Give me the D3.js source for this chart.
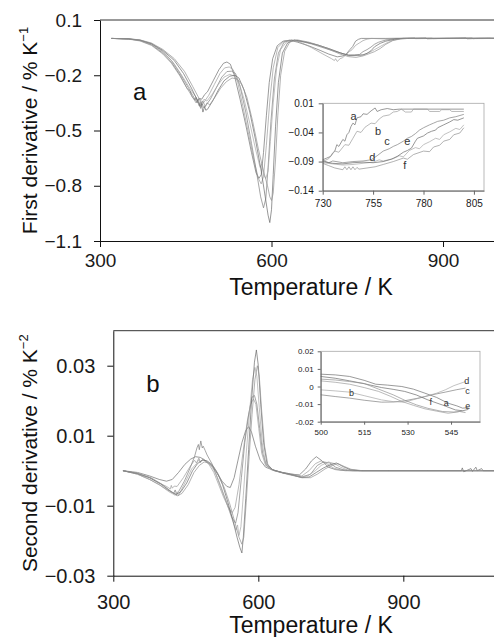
<!DOCTYPE html>
<html>
<head>
<meta charset="utf-8">
<script src="https://cdn.jsdelivr.net/npm/d3@7"></script>
<style>
  body { margin: 0; background: #fff; }
  svg { display: block; font-family: "Liberation Sans", Arial, sans-serif; }
</style>
</head>
<body>
<svg id="chart" width="494" height="637"></svg>
<script>
(function(d3) {
    "use strict";

    // samples, one curve each
    var seriesNames = ["a", "b", "c", "d", "e", "f"];
    var lineColors = ["#6e6e6e", "#9c9c9c", "#808080", "#a8a8a8", "#6a6a6a", "#909090"];

    // first derivative, % K-1, [T, value]
    var d1a = [[320,0],[350,-0.003],[370,-0.012],[390,-0.035],[410,-0.08],[425,-0.13],[440,-0.2],[452,-0.27],[458,-0.29],[460,-0.31],[462,-0.32],[466,-0.335],[468,-0.32],[470,-0.34],[473,-0.325],[478,-0.33],[483,-0.305],[488,-0.29],[498,-0.23],[508,-0.17],[516,-0.135],[522,-0.128],[528,-0.14],[535,-0.2],[545,-0.33],[555,-0.47],[565,-0.62],[573,-0.73],[578,-0.76],[582,-0.74],[586,-0.62],[591,-0.42],[596,-0.24],[602,-0.11],[610,-0.04],[620,-0.015],[632,-0.01],[645,-0.02],[665,-0.04],[685,-0.065],[700,-0.085],[715,-0.1],[725,-0.095],[730,-0.087],[737,-0.061],[742,-0.044],[747,-0.015],[752,-0.005],[757,0],[800,0],[850,0.002],[852,-0.001],[900,0],[950,0.002],[953,-0.001],[1000,0]];
    var d1b = [[320,0],[350,-0.004],[370,-0.014],[390,-0.038],[410,-0.085],[425,-0.135],[440,-0.205],[452,-0.27],[464,-0.33],[468,-0.35],[470,-0.335],[473,-0.365],[476,-0.345],[478,-0.36],[481,-0.35],[490,-0.31],[500,-0.25],[510,-0.19],[518,-0.16],[526,-0.155],[533,-0.17],[541,-0.24],[550,-0.37],[560,-0.52],[569,-0.66],[577,-0.76],[582,-0.79],[586,-0.75],[591,-0.58],[597,-0.34],[603,-0.16],[611,-0.05],[622,-0.015],[635,-0.008],[650,-0.02],[670,-0.05],[690,-0.085],[705,-0.11],[710,-0.12],[712,-0.11],[715,-0.125],[720,-0.11],[724,-0.105],[730,-0.09],[736,-0.072],[741,-0.061],[747,-0.038],[754,-0.024],[760,-0.012],[767,-0.004],[775,0],[800,-0.003],[830,0],[880,0.002],[883,-0.001],[930,0],[960,0.002],[1000,0]];
    var d1c = [[320,0],[350,-0.003],[370,-0.01],[390,-0.03],[410,-0.07],[425,-0.12],[440,-0.19],[455,-0.27],[466,-0.33],[470,-0.35],[472,-0.33],[476,-0.38],[479,-0.355],[481,-0.375],[484,-0.37],[493,-0.33],[503,-0.27],[513,-0.21],[522,-0.18],[530,-0.178],[537,-0.19],[545,-0.26],[555,-0.4],[565,-0.57],[574,-0.73],[581,-0.86],[586,-0.92],[590,-0.87],[594,-0.7],[599,-0.45],[605,-0.22],[612,-0.08],[622,-0.02],[635,-0.01],[650,-0.015],[670,-0.03],[690,-0.05],[710,-0.07],[725,-0.083],[735,-0.09],[745,-0.09],[754,-0.087],[760,-0.072],[767,-0.061],[774,-0.047],[780,-0.032],[787,-0.021],[793,-0.015],[800,-0.009],[815,-0.002],[830,0],[900,0],[960,0.001],[1000,0]];
    var d1d = [[320,0],[350,-0.003],[370,-0.011],[390,-0.032],[410,-0.075],[428,-0.13],[443,-0.2],[457,-0.27],[468,-0.32],[472,-0.34],[475,-0.325],[478,-0.35],[482,-0.33],[487,-0.34],[497,-0.3],[507,-0.25],[517,-0.21],[527,-0.195],[535,-0.205],[543,-0.24],[552,-0.33],[562,-0.46],[572,-0.6],[580,-0.7],[583,-0.68],[586,-0.74],[590,-0.76],[594,-0.72],[598,-0.56],[603,-0.35],[609,-0.16],[616,-0.06],[626,-0.02],[640,-0.01],[660,-0.02],[680,-0.035],[700,-0.055],[720,-0.078],[735,-0.094],[750,-0.093],[760,-0.089],[770,-0.078],[780,-0.061],[790,-0.044],[800,-0.027],[812,-0.01],[825,-0.002],[840,0],[900,0.001],[960,0],[1000,0]];
    var d1e = [[320,0],[350,-0.002],[370,-0.009],[390,-0.028],[410,-0.065],[430,-0.12],[446,-0.19],[460,-0.27],[471,-0.34],[475,-0.37],[477,-0.35],[480,-0.4],[483,-0.37],[485,-0.39],[488,-0.385],[497,-0.34],[507,-0.28],[517,-0.23],[527,-0.205],[536,-0.2],[543,-0.215],[552,-0.28],[562,-0.4],[572,-0.55],[582,-0.72],[589,-0.86],[594,-0.96],[597,-1.0],[600,-0.93],[603,-0.74],[607,-0.48],[612,-0.24],[619,-0.08],[628,-0.025],[640,-0.008],[660,-0.02],[680,-0.035],[700,-0.055],[720,-0.078],[735,-0.092],[750,-0.091],[760,-0.09],[767,-0.081],[774,-0.067],[780,-0.046],[790,-0.027],[800,-0.015],[815,-0.005],[830,0],[870,0.002],[872,-0.002],[900,0],[940,0.002],[942,-0.002],[980,0.002],[1000,0]];
    var d1f = [[320,0],[350,-0.002],[370,-0.008],[390,-0.025],[410,-0.06],[430,-0.11],[448,-0.18],[462,-0.26],[474,-0.33],[478,-0.355],[480,-0.34],[484,-0.37],[487,-0.35],[492,-0.36],[501,-0.32],[511,-0.27],[521,-0.235],[531,-0.215],[540,-0.22],[548,-0.25],[557,-0.32],[567,-0.45],[577,-0.6],[586,-0.72],[593,-0.8],[597,-0.86],[600,-0.88],[603,-0.84],[607,-0.66],[611,-0.42],[616,-0.2],[623,-0.07],[632,-0.02],[645,-0.008],[665,-0.02],[685,-0.04],[705,-0.065],[720,-0.085],[735,-0.099],[748,-0.103],[760,-0.095],[770,-0.084],[780,-0.072],[790,-0.055],[800,-0.032],[812,-0.012],[825,-0.003],[840,0],[900,0.001],[960,0],[1000,0]];

    // second derivative, % K-2, [T, value]
    var d2a = [[320,0],[350,-0.0005],[375,-0.0015],[395,-0.0025],[410,-0.003],[422,-0.0025],[435,-0.0005],[448,0.0018],[460,0.0033],[470,0.004],[480,0.0038],[492,0.0028],[505,0.0012],[515,-0.0008],[525,-0.003],[535,-0.0045],[542,-0.0048],[550,-0.002],[558,0.003],[566,0.008],[574,0.0115],[580,0.0126],[586,0.011],[594,0.007],[604,0.003],[615,0.001],[630,0.0002],[650,-0.0005],[670,-0.001],[685,-0.0012],[698,0.0005],[710,0.0028],[720,0.004],[732,0.0028],[745,0.001],[760,0.0003],[780,0],[820,0],[900,0],[1000,0],[1100,0]];
    var d2b = [[320,0],[350,-0.0008],[375,-0.002],[395,-0.0035],[410,-0.0045],[418,-0.0052],[420,-0.0042],[422,-0.005],[426,-0.0044],[432,-0.0045],[445,-0.002],[458,0.001],[468,0.003],[472,0.0022],[477,0.0036],[480,0.0026],[487,0.0032],[497,0.002],[508,-0.0005],[518,-0.004],[528,-0.0075],[538,-0.0105],[546,-0.012],[552,-0.0105],[560,-0.004],[568,0.005],[577,0.014],[584,0.019],[590,0.0205],[595,0.019],[601,0.012],[607,0.005],[615,0.0015],[628,0.0003],[650,-0.0005],[670,-0.001],[690,-0.0015],[705,0],[718,0.002],[730,0.0028],[742,0.002],[755,0.0008],[770,0.0002],[790,0],[850,0],[950,0],[1100,0]];
    var d2c = [[320,0],[350,-0.001],[375,-0.0025],[395,-0.004],[412,-0.0055],[425,-0.0065],[428,-0.0055],[431,-0.0068],[435,-0.006],[447,-0.003],[458,0.0005],[468,0.004],[473,0.0065],[476,0.0075],[478,0.006],[481,0.0085],[484,0.0065],[486,0.007],[490,0.0058],[494,0.0045],[504,0.002],[515,-0.002],[526,-0.006],[537,-0.01],[546,-0.0135],[553,-0.015],[558,-0.012],[565,-0.002],[572,0.008],[580,0.016],[587,0.021],[592,0.0215],[597,0.019],[603,0.012],[609,0.005],[617,0.0015],[630,0.0003],[650,-0.0006],[670,-0.0012],[690,-0.0018],[708,-0.001],[722,0.0015],[735,0.0025],[748,0.0022],[760,0.001],[775,0.0003],[795,0],[850,0],[950,0],[1100,0]];
    var d2d = [[320,0],[350,-0.001],[375,-0.0025],[395,-0.004],[415,-0.006],[428,-0.007],[432,-0.006],[435,-0.0072],[438,-0.0062],[450,-0.003],[462,0.0005],[472,0.002],[477,0.0032],[480,0.0022],[482,0.0028],[486,0.0034],[492,0.0025],[502,0.0015],[513,-0.001],[524,-0.005],[535,-0.0095],[545,-0.0135],[554,-0.017],[557,-0.0155],[560,-0.0185],[564,-0.016],[569,-0.007],[575,0.005],[582,0.017],[588,0.026],[593,0.0295],[597,0.027],[602,0.018],[608,0.008],[615,0.002],[626,0.0003],[645,-0.0005],[665,-0.0012],[685,-0.0018],[702,-0.0015],[718,0],[730,0.0015],[745,0.0025],[758,0.002],[770,0.001],[785,0.0002],[800,0],[850,0],[950,0],[1100,0]];
    var d2e = [[320,0],[350,-0.0008],[375,-0.002],[398,-0.0038],[418,-0.0058],[430,-0.0068],[440,-0.006],[452,-0.0035],[464,0],[474,0.002],[484,0.003],[494,0.0028],[504,0.0018],[515,-0.0005],[526,-0.004],[537,-0.009],[547,-0.014],[556,-0.019],[562,-0.022],[566,-0.0235],[569,-0.019],[574,-0.008],[580,0.006],[586,0.02],[592,0.031],[596,0.0345],[600,0.03],[605,0.019],[611,0.008],[618,0.002],[630,0.0002],[650,-0.0006],[670,-0.0012],[690,-0.002],[705,-0.0018],[720,-0.0005],[735,0.0008],[750,0.0018],[762,0.0022],[775,0.0012],[790,0.0003],[810,0],[860,0],[950,0],[1020,0],[1022,0.0008],[1025,-0.0003],[1040,0.0006],[1043,-0.0002],[1050,0.001],[1053,0],[1062,0.0006],[1065,0],[1100,0]];
    var d2f = [[320,0],[350,-0.0008],[378,-0.002],[400,-0.0038],[420,-0.006],[432,-0.0072],[442,-0.0065],[455,-0.004],[467,-0.0005],[478,0.0015],[488,0.0025],[498,0.0022],[508,0.001],[519,-0.0015],[530,-0.005],[541,-0.0095],[551,-0.0145],[560,-0.019],[566,-0.021],[570,-0.019],[575,-0.009],[581,0.004],[587,0.016],[593,0.026],[598,0.03],[602,0.027],[607,0.017],[613,0.007],[620,0.0015],[632,0],[652,-0.0006],[672,-0.0013],[692,-0.002],[708,-0.002],[722,-0.001],[738,0.0005],[752,0.0015],[765,0.002],[778,0.0012],[792,0.0004],[815,0],[870,0],[950,0],[1100,0]];

    // inset a: first derivative, 730-805 K
    var in1a = [[730,-0.087],[732,-0.084],[734,-0.081],[735,-0.075],[736,-0.072],[737,-0.061],[738,-0.064],[740,-0.052],[741,-0.055],[742,-0.044],[743,-0.04],[744,-0.03],[745,-0.024],[746,-0.027],[747,-0.015],[749,-0.013],[750,-0.008],[752,-0.009],[754,-0.003],[756,0.002],[757,-0.004],[759,-0.001],[762,0.001],[765,-0.001],[768,0],[800,0]];
    var in1b = [[730,-0.09],[733,-0.085],[736,-0.072],[738,-0.074],[741,-0.061],[743,-0.062],[745,-0.05],[747,-0.038],[749,-0.04],[751,-0.031],[754,-0.024],[756,-0.025],[758,-0.017],[760,-0.012],[763,-0.01],[765,-0.005],[767,-0.004],[769,0],[771,-0.005],[774,-0.005],[775,0],[782,0],[783,-0.004],[788,-0.004],[789,-0.001],[793,-0.001],[794,-0.004],[800,-0.004]];
    var in1c = [[730,-0.088],[733,-0.092],[735,-0.089],[740,-0.092],[745,-0.09],[750,-0.089],[754,-0.087],[757,-0.08],[760,-0.072],[763,-0.068],[765,-0.064],[767,-0.061],[770,-0.055],[772,-0.05],[774,-0.047],[776,-0.042],[778,-0.036],[780,-0.032],[783,-0.027],[785,-0.024],[787,-0.021],[790,-0.019],[793,-0.015],[796,-0.013],[800,-0.009]];
    var in1d = [[730,-0.092],[735,-0.094],[740,-0.096],[745,-0.095],[750,-0.093],[755,-0.091],[758,-0.087],[760,-0.089],[765,-0.085],[768,-0.08],[770,-0.082],[773,-0.071],[776,-0.066],[778,-0.068],[780,-0.061],[783,-0.056],[786,-0.05],[788,-0.052],[790,-0.044],[793,-0.039],[796,-0.033],[798,-0.035],[800,-0.027]];
    var in1e = [[730,-0.09],[735,-0.093],[740,-0.094],[745,-0.092],[750,-0.091],[755,-0.092],[760,-0.09],[764,-0.086],[767,-0.081],[770,-0.074],[772,-0.071],[774,-0.067],[776,-0.055],[777,-0.05],[780,-0.046],[782,-0.041],[784,-0.038],[786,-0.036],[787,-0.032],[790,-0.027],[793,-0.022],[795,-0.018],[797,-0.019],[800,-0.015]];
    var in1f = [[730,-0.093],[733,-0.097],[736,-0.101],[740,-0.104],[741,-0.099],[742,-0.104],[743,-0.099],[744,-0.104],[745,-0.099],[746,-0.104],[747,-0.1],[748,-0.103],[752,-0.101],[756,-0.099],[760,-0.095],[765,-0.09],[770,-0.084],[772,-0.086],[775,-0.078],[780,-0.072],[783,-0.073],[785,-0.065],[788,-0.062],[790,-0.055],[793,-0.052],[795,-0.044],[798,-0.041],[800,-0.032]];

    // inset b: second derivative, 500-550 K
    var in2a = [[500,0.007],[505,0.0066],[510,0.0057],[515,0.0035],[519,0.0013],[523,0.0008],[528,0],[532,-0.0015],[536,-0.0038],[540,-0.0062],[544,-0.0095],[547,-0.011],[549,-0.0123],[551,-0.012]];
    var in2b = [[500,0.0032],[505,0.0024],[510,0.0013],[515,-0.0006],[520,-0.0028],[524,-0.0055],[528,-0.0085],[532,-0.0107],[536,-0.0127],[540,-0.014],[544,-0.0152],[547,-0.0145],[549,-0.0138]];
    var in2c = [[500,-0.0047],[505,-0.0057],[510,-0.0066],[515,-0.0078],[521,-0.0089],[525,-0.0088],[529,-0.0081],[534,-0.0065],[538.5,-0.0047],[543,-0.0032],[547,-0.0018],[550,-0.0009]];
    var in2d = [[500,-0.0019],[505,-0.0025],[510,-0.0032],[515,-0.0052],[521,-0.0076],[525,-0.0086],[529,-0.0089],[532,-0.0075],[536,-0.0057],[540,-0.0038],[543,-0.0019],[546,0.0005],[550,0.0028]];
    var in2e = [[500,0.0057],[505,0.0047],[510,0.0032],[515,0.0016],[521,-0.0006],[525,-0.0016],[529,-0.0028],[533,-0.0048],[537,-0.0076],[542,-0.0105],[546.5,-0.0133],[549,-0.0138],[551,-0.013]];
    var in2f = [[500,0.0042],[505,0.0037],[510,0.0028],[515,0.0017],[520,-0.0015],[525,-0.0047],[529,-0.0078],[533,-0.0104],[537,-0.0124],[542,-0.0142],[546,-0.0145],[548,-0.0142],[550,-0.0148]];

    // tick values
    var tempTicks = [300, 600, 900];
    var firstTicks = [0.1, -0.2, -0.5, -0.8, -1.1];
    var secondTicks = [0.03, 0.01, -0.01, -0.03];
    var inset1TempTicks = [730, 755, 780, 805];
    var inset1Ticks = [0.01, -0.04, -0.09, -0.14];
    var inset2TempTicks = [500, 515, 530, 545];
    var inset2Ticks = [0.02, 0.01, 0, -0.01, -0.02];

    // curve letters in the insets: [letter, T, value]
    var inset1Letters = [["a",743.8,-0.018],["b",755.9,-0.045],["c",760.5,-0.061],["e",770.4,-0.061],["d",753.1,-0.0885],["f",770,-0.103]];
    var inset2Letters = [["d",549.6,0.0014],["c",549.9,-0.0041],["e",549.9,-0.0128],["a",542.5,-0.011],["f",537.6,-0.0104],["b",509.8,-0.0053]];

    var svg = d3.select("#chart");
    var minus = d3.format("");

    function drawLines(g, list, x, y, width) {
        var line = d3.line()
            .x(function(d) { return x(d[0]); })
            .y(function(d) { return y(d[1]); });
        g.selectAll("path.curve")
            .data(list)
            .enter().append("path")
            .attr("class", "curve")
            .attr("fill", "none")
            .attr("stroke", function(d, i) { return lineColors[i]; })
            .attr("stroke-width", width)
            .attr("stroke-linejoin", "round")
            .attr("d", line);
    }

    function styleAxis(g, size, color) {
        g.attr("font-size", size)
            .attr("font-family", null)
            .attr("color", color);
        g.selectAll("text").attr("fill", "#1a1a1a");
    }

    function drawPanel(p) {
        var x = d3.scaleLinear().domain(p.xDomain).range(p.xRange);
        var y = d3.scaleLinear().domain(p.yDomain).range(p.yRange);
        var g = svg.append("g");

        g.append("clipPath").attr("id", p.id)
            .append("rect")
            .attr("x", p.xRange[0]).attr("y", p.yRange[1])
            .attr("width", p.xRange[1] - p.xRange[0])
            .attr("height", p.yRange[0] - p.yRange[1]);

        drawLines(g.append("g").attr("clip-path", "url(#" + p.id + ")"), p.series, x, y, 0.7);

        // top frame line
        g.append("line")
            .attr("x1", p.xRange[0]).attr("x2", 494)
            .attr("y1", p.yRange[1]).attr("y2", p.yRange[1])
            .attr("stroke", "#333").attr("stroke-width", 1);

        var ax = g.append("g")
            .attr("transform", "translate(0," + p.yRange[0] + ")")
            .call(d3.axisBottom(x).tickValues(tempTicks).tickSize(6).tickSizeOuter(0).tickPadding(p.xPad).tickFormat(d3.format("d")));
        styleAxis(ax, p.tickFont, "#111");

        var ay = g.append("g")
            .attr("transform", "translate(" + p.xRange[0] + ",0)")
            .call(d3.axisLeft(y).tickValues(p.yTicks).tickSize(6).tickSizeOuter(0).tickPadding(p.yPad).tickFormat(minus));
        styleAxis(ay, p.tickFont, "#111");

        g.append("text")
            .attr("x", 311).attr("y", p.titleY)
            .attr("text-anchor", "middle")
            .attr("font-size", 23)
            .attr("fill", "#111")
            .text("Temperature / K");

        var yt = g.append("text")
            .attr("transform", "translate(37," + ((p.yRange[0] + p.yRange[1]) / 2) + ") rotate(-90)")
            .attr("text-anchor", "middle")
            .attr("font-size", 21)
            .attr("fill", "#111");
        yt.append("tspan").text(p.yTitle + " / % K");
        yt.append("tspan").attr("dy", -9).attr("font-size", 13).text(p.yExp);

        g.append("text")
            .attr("x", p.xRange[0] + 33).attr("y", p.letterY)
            .attr("font-size", 24)
            .attr("fill", "#111")
            .text(p.letter);

        drawInset(p.inset);
    }

    function drawInset(q) {
        var x = d3.scaleLinear().domain(q.xDomain).range(q.xRange);
        var y = d3.scaleLinear().domain(q.yDomain).range(q.yRange);
        var g = svg.append("g");

        g.append("rect")
            .attr("x", q.xRange[0]).attr("y", q.yRange[1])
            .attr("width", q.xRange[1] - q.xRange[0])
            .attr("height", q.yRange[0] - q.yRange[1])
            .attr("fill", "#fff")
            .attr("stroke", "#a8a8a8")
            .attr("stroke-width", 0.8);

        drawLines(g.append("g"), q.series, x, y, 0.7);

        var ax = g.append("g")
            .attr("transform", "translate(0," + q.yRange[0] + ")")
            .call(d3.axisBottom(x).tickValues(q.xTicks).tickSize(q.tick).tickSizeOuter(0).tickPadding(q.xPad).tickFormat(d3.format("d")));
        styleAxis(ax, q.font, "#666");

        var ay = g.append("g")
            .attr("transform", "translate(" + q.xRange[0] + ",0)")
            .call(d3.axisLeft(y).tickValues(q.yTicks).tickSize(q.tick).tickSizeOuter(0).tickPadding(q.yPad).tickFormat(q.format));
        styleAxis(ay, q.font, "#666");

        g.selectAll("text.letter")
            .data(q.letters)
            .enter().append("text")
            .attr("class", "letter")
            .attr("x", function(d) { return x(d[1]); })
            .attr("y", function(d) { return y(d[2]); })
            .attr("font-size", q.letterFont)
            .attr("fill", "#333")
            .text(function(d) { return d[0]; });
    }

    drawPanel({
        id: "clipA",
        series: [d1a, d1b, d1c, d1d, d1e, d1f],
        xDomain: [300, 1000], xRange: [100, 500.2],
        yDomain: [-1.1, 0.1], yRange: [241, 20],
        yTicks: firstTicks,
        tickFont: 19, xPad: 7, yPad: 12,
        titleY: 295,
        yTitle: "First derivative", yExp: "\u22121",
        letter: "a", letterY: 100,
        inset: {
            series: [in1a, in1b, in1c, in1d, in1e, in1f],
            xDomain: [730, 810], xRange: [322.7, 484],
            yDomain: [-0.14, 0.01], yRange: [190.7, 103.3],
            xTicks: inset1TempTicks, yTicks: inset1Ticks,
            format: d3.format(".2f"),
            tick: 4, xPad: 5, yPad: 5, font: 10,
            letters: inset1Letters, letterFont: 11
        }
    });

    drawPanel({
        id: "clipB",
        series: [d2a, d2b, d2c, d2d, d2e, d2f],
        xDomain: [300, 1100], xRange: [113.3, 500],
        yDomain: [-0.03, 0.04], yRange: [575.7, 330.7],
        yTicks: secondTicks,
        tickFont: 20, xPad: 13, yPad: 12,
        titleY: 633,
        yTitle: "Second derivative", yExp: "\u22122",
        letter: "b", letterY: 391.7,
        inset: {
            series: [in2a, in2b, in2c, in2d, in2e, in2f],
            xDomain: [500, 555], xRange: [320.7, 480],
            yDomain: [-0.02, 0.02], yRange: [421.7, 351.3],
            xTicks: inset2TempTicks, yTicks: inset2Ticks,
            format: function(d) { return d === 0 ? "0" : d3.format(".2f")(d).replace("\u2212", "-"); },
            tick: 3, xPad: 5, yPad: 4, font: 8,
            letters: inset2Letters, letterFont: 9
        }
    });

})(d3);
</script>
</body>
</html>
